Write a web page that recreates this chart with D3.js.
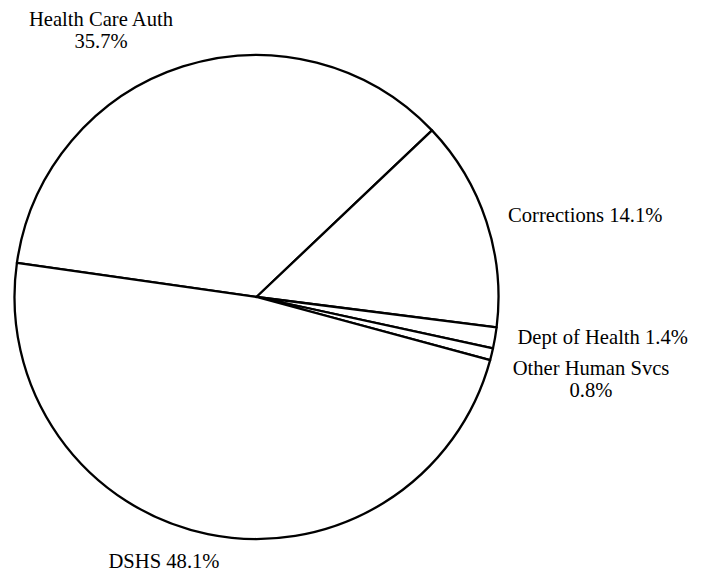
<!DOCTYPE html>
<html>
<head>
<meta charset="utf-8">
<script src="https://cdn.jsdelivr.net/npm/d3@7"></script>
<style>
  html, body { margin: 0; padding: 0; background: #fff; }
  svg { display: block; }
  text { font-family: "Times New Roman", "Liberation Serif", serif; font-size: 20.6px; fill: #000; }
</style>
</head>
<body>
<svg id="chart" width="703" height="574"></svg>
<script>
const categories = ["Health Care Auth", "Corrections", "Dept of Health", "Other Human Svcs", "DSHS"];
const values = [35.7, 14.1, 1.4, 0.8, 48.1];
const labelLines = [
  ["Health Care Auth", "35.7%"],
  ["Corrections 14.1%"],
  ["Dept of Health 1.4%"],
  ["Other Human Svcs", "0.8%"],
  ["DSHS 48.1%"]
];

const W = 703, H = 574;
const cx = 256.5, cy = 297, R = 242;
const startDeg = -81.9;

const svg = d3.select("#chart");
const g = svg.append("g").attr("transform", `translate(${cx},${cy})`);

const data = categories.map((c, i) => ({ name: c, value: values[i], lines: labelLines[i] }));

const pie = d3.pie()
  .sort(null)
  .value(d => d.value)
  .startAngle(startDeg * Math.PI / 180)
  .endAngle(startDeg * Math.PI / 180 + 2 * Math.PI);

const arc = d3.arc().innerRadius(0).outerRadius(R);
const arcs = pie(data);

g.selectAll("path.slice")
  .data(arcs)
  .join("path")
  .attr("class", "slice")
  .attr("d", arc)
  .attr("fill", "#fff")
  .attr("stroke", "#000")
  .attr("stroke-width", 2.3)
  .attr("stroke-linejoin", "round");

// label anchor positions (page coords), placed like the reference
const labelPos = [
  { x: 101, y: 25.5, anchor: "middle" },
  { x: 508, y: 222, anchor: "start" },
  { x: 517.5, y: 344, anchor: "start" },
  { x: 591, y: 375, anchor: "middle" },
  { x: 164, y: 567.5, anchor: "middle" }
];

const lab = svg.append("g");
arcs.forEach((a, i) => {
  const p = labelPos[i];
  const t = lab.append("text")
    .attr("x", p.x)
    .attr("y", p.y)
    .attr("text-anchor", p.anchor);
  a.data.lines.forEach((ln, j) => {
    t.append("tspan")
      .attr("x", p.x)
      .attr("dy", j === 0 ? 0 : 22)
      .text(ln);
  });
});
</script>
</body>
</html>
